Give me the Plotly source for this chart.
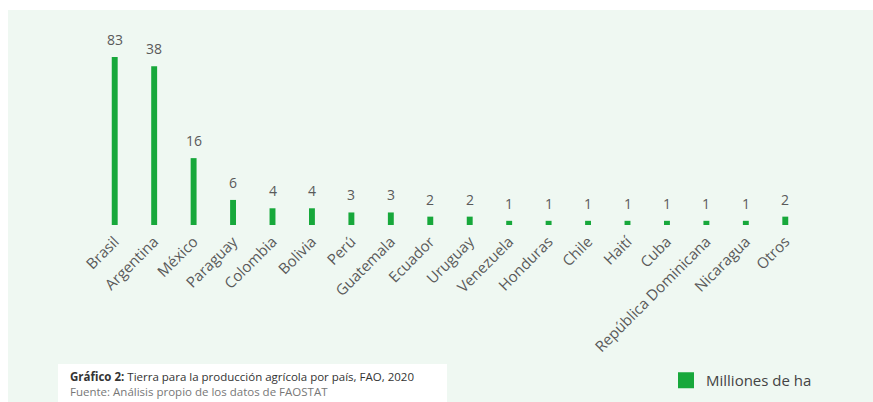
import plotly.graph_objects as go

categories = ["Brasil", "Argentina", "México", "Paraguay", "Colombia", "Bolivia", "Perú",
              "Guatemala", "Ecuador", "Uruguay", "Venezuela", "Honduras", "Chile", "Haití",
              "Cuba", "República Dominicana", "Nicaragua", "Otros"]
values = [83, 38, 16, 6, 4, 4, 3, 3, 2, 2, 1, 1, 1, 1, 1, 1, 1, 2]
series_name = "Milliones de ha"
caption_bold = "Gráfico 2:"
caption_rest = " Tierra para la producción agrícola por país, FAO, 2020"
source_text = "Fuente: Análisis propio de los datos de FAOSTAT"

W, H = 873, 402
ML, MR, MT, MB = 95, 68, 57, 177
PW, PH = W - ML - MR, H - MT - MB
YMAX = 40.2  # axis is cut: Brasil bar exceeds the visible range

GREEN = "#17a83b"
PANEL = "#eff8f2"
TXT = "#5a5a5a"
FONT = "Open Sans"


def px_x(p):
    return (p - ML) / PW


def px_y(p):
    return 1 - (p - MT) / PH


fig = go.Figure()
fig.add_trace(go.Bar(x=categories, y=values, marker_color=GREEN, marker_line_width=0,
                     showlegend=False, hoverinfo="x+y"))
# legend entry
fig.add_trace(go.Scatter(x=[None], y=[None], mode="markers", name=series_name,
                         marker=dict(symbol="square", size=18, color=GREEN)))

for c, v in zip(categories, values):
    fig.add_annotation(x=c, y=min(v, YMAX), text=str(v), showarrow=False, yanchor="bottom",
                       yshift=6, font=dict(family=FONT, size=14, color=TXT))

shapes = [
    dict(type="rect", xref="paper", yref="paper", x0=px_x(8), x1=px_x(W + 5),
         y0=px_y(10), y1=px_y(H + 5), fillcolor=PANEL, line_width=0, layer="below"),
    dict(type="rect", xref="paper", yref="paper", x0=px_x(58), x1=px_x(447),
         y0=px_y(364), y1=px_y(H + 5), fillcolor="white", line_width=0, layer="below"),
]

fig.add_annotation(xref="paper", yref="paper", x=px_x(68), y=px_y(401), xanchor="left",
                   yanchor="bottom", showarrow=False, align="left",
                   text=(f"<b>{caption_bold}</b>{caption_rest}<br>"
                         f"<span style='color:#777777'>{source_text}</span>"),
                   font=dict(family=FONT, size=11.5, color="#333333"))

fig.update_layout(
    width=W, height=H,
    margin=dict(l=ML, r=MR, t=MT, b=MB, autoexpand=False),
    paper_bgcolor="white",
    plot_bgcolor="rgba(0,0,0,0)",
    bargap=0.85,
    shapes=shapes,
    showlegend=True,
    legend=dict(x=px_x(666), y=px_y(364), xanchor="left", yanchor="top",
                bgcolor="rgba(0,0,0,0)", font=dict(family=FONT, size=15, color="#444444"),
                itemsizing="trace"),
    xaxis=dict(type="category", tickangle=-45, showline=False, showgrid=False, ticks="",
               tickfont=dict(family=FONT, size=15, color=TXT), fixedrange=True,
               automargin=False, ticklabelstandoff=4),
    yaxis=dict(range=[0, YMAX], visible=False, showgrid=False, zeroline=False,
               automargin=False),
)

fig.write_html("out.html")
